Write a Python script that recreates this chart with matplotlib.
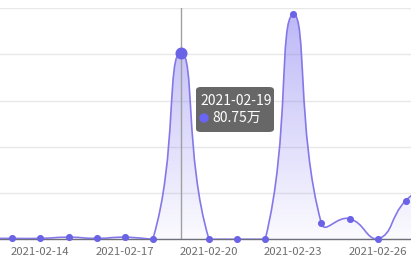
#!/usr/bin/env python3
"""Daily value line (smooth, gradient area) with a hover tooltip."""

import numpy as np
import matplotlib.pyplot as plt
from matplotlib.path import Path
from matplotlib.patches import PathPatch, FancyBboxPatch, Ellipse

plt.rcParams['font.family'] = ['Noto Sans CJK SC', 'DejaVu Sans']

# values in 万, one point per day
dates = ['2021-02-12', '2021-02-13', '2021-02-14', '2021-02-15', '2021-02-16',
         '2021-02-17', '2021-02-18', '2021-02-19', '2021-02-20', '2021-02-21',
         '2021-02-22', '2021-02-23', '2021-02-24', '2021-02-25', '2021-02-26',
         '2021-02-27', '2021-02-28']
values = [0.4, 0.4, 0.4, 0.9, 0.4, 0.9, 0.1, 80.75, 0.0, 0.0, 0.0, 97.3,
          6.9, 8.9, 0.1, 16.7, 25.0]
tick_dates = ['2021-02-14', '2021-02-17', '2021-02-20', '2021-02-23', '2021-02-26']
hover_date = '2021-02-19'
hover_label = '80.75万'

W, H = 411, 260
LINE = '#8478e8'
DOT = '#6b63e6'


def smooth_path(x, y, sx, sy, smooth=0.5):
    """Bezier path like echarts' smooth line (control points in pixel space)."""
    pts = np.column_stack([np.asarray(x, float) * sx, np.asarray(y, float) * sy])
    lo, hi = pts.min(0), pts.max(0)
    n = len(pts)
    verts = [pts[0]]
    codes = [Path.MOVETO]
    cp_out = pts[0].copy()
    for i in range(1, n):
        p = pts[i]
        if i < n - 1:
            prev, nxt = pts[i - 1], pts[i + 1]
            v = nxt - prev
            d0 = np.hypot(*(p - prev))
            d1 = np.hypot(*(p - nxt))
            r = d1 / (d0 + d1) if d0 + d1 else 0.5
            cp_in = np.clip(p - v * smooth * (1 - r), lo, hi)
            nxt_out = np.clip(p + v * smooth * r, lo, hi)
        else:
            cp_in = p.copy()
            nxt_out = p.copy()
        verts += [cp_out, cp_in, p]
        codes += [Path.CURVE4] * 3
        cp_out = nxt_out
    return np.array(verts) / [sx, sy], codes


x = np.arange(len(dates)) - 1
x0_px, step_px = 12.3, 28.1
y_top_px, y_base_px = 8, 239.3
px_per_unit = (y_base_px - y_top_px) / 100

fig = plt.figure(figsize=(W / 100, H / 100), dpi=100)
ax = fig.add_axes([0, (H - y_base_px) / H, 1, (y_base_px - y_top_px) / H])
xlim = (-x0_px / step_px, (W - x0_px) / step_px)
ax.set_xlim(*xlim)
ax.set_ylim(0, 100)

verts, codes = smooth_path(x, values, step_px, px_per_unit)

# area under the curve with vertical gradient
area_v = np.vstack([verts, [[x[-1], 0], [x[0], 0], verts[0]]])
area_c = codes + [Path.LINETO, Path.LINETO, Path.CLOSEPOLY]
patch = PathPatch(Path(area_v, area_c), facecolor='none', edgecolor='none')
ax.add_patch(patch)
grad = np.zeros((256, 1, 4))
grad[..., 0], grad[..., 1], grad[..., 2] = 0.47, 0.43, 0.94
grad[:, 0, 3] = np.linspace(0.03, 0.5, 256)
im = ax.imshow(grad, extent=[xlim[0], xlim[1], 0, 100], origin='lower',
               aspect='auto', zorder=1)
im.set_clip_path(patch)

ax.add_patch(PathPatch(Path(verts, codes), facecolor='none', edgecolor=LINE,
                       lw=1.2, zorder=3))

# hover cursor
hi = dates.index(hover_date)
ax.axvline(x[hi], color='#a0a0a0', lw=1, zorder=2)

ax.scatter(x, values, s=26, color=DOT, zorder=4, clip_on=False, linewidths=0)
ax.scatter([x[hi]], [values[hi]], s=75, color=DOT, zorder=5, linewidths=0)

ax.set_yticks([0, 20, 40, 60, 80, 100])
ax.set_yticklabels([])
ax.grid(axis='y', color='#e8e8e8', lw=1)
ax.set_axisbelow(True)
for s in ['top', 'right', 'left']:
    ax.spines[s].set_visible(False)
ax.spines['bottom'].set_color('#6e7079')
ax.spines['bottom'].set_linewidth(1)

ax.set_xticks([x[dates.index(d)] for d in tick_dates])
ax.set_xticklabels(tick_dates, fontsize=8.2, color='#6e6e6e')
ax.tick_params(axis='both', length=0, pad=5.5)

# tooltip
def fx(px):
    return px / W


def fy(py):
    return 1 - py / H


box = FancyBboxPatch((fx(196), fy(132)), fx(274) - fx(196), fy(87) - fy(132),
                     boxstyle='round,pad=0,rounding_size=0.012',
                     transform=fig.transFigure, facecolor='#676767',
                     edgecolor='none', zorder=10)
fig.patches.append(box)
fig.text(fx(200), fy(101), hover_date, color='white', fontsize=10,
         va='center', ha='left', zorder=11)
fig.text(fx(212), fy(118), hover_label, color='white', fontsize=10,
         va='center', ha='left', zorder=11)
fig.add_artist(Ellipse((fx(204), fy(118)), 8 / W, 8 / H, color='#6a65f5',
                       transform=fig.transFigure, zorder=11))

fig.savefig('out.png', dpi=100)
